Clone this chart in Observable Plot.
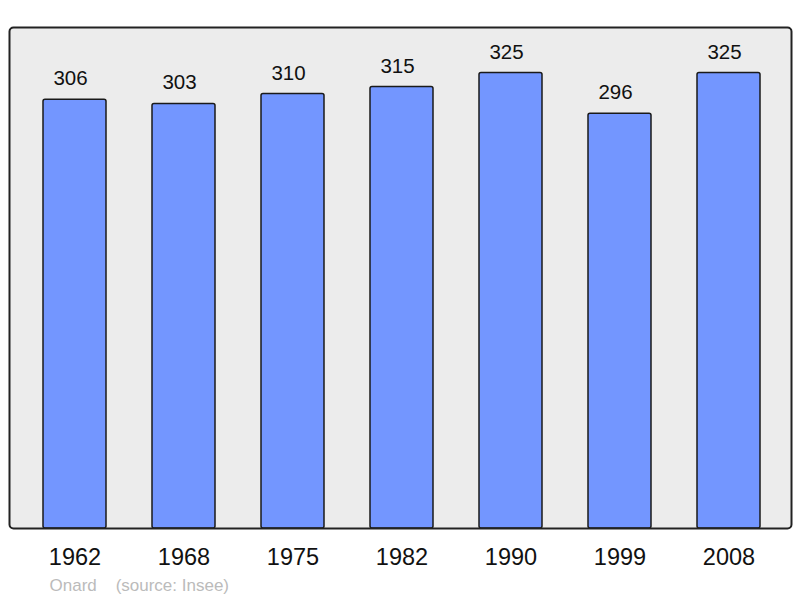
<!DOCTYPE html>
<html>
<head>
<meta charset="utf-8">
<script src="https://cdn.jsdelivr.net/npm/d3@7"></script>
<script src="https://cdn.jsdelivr.net/npm/@observablehq/plot@0.6"></script>
<style>
  html, body { margin: 0; padding: 0; background: #ffffff; }
  svg { display: block; }
</style>
</head>
<body>
<div id="chart"></div>
<script>
const years = ["1962", "1968", "1975", "1982", "1990", "1999", "2008"];
const population = [306, 303, 310, 315, 325, 296, 325];
const captionText = "Onard\u00a0\u00a0\u00a0\u00a0(source: Insee)";

const data = years.map((y, i) => ({year: y, value: population[i]}));

const chart = Plot.plot({
  width: 800,
  height: 598,
  marginTop: 27,
  marginBottom: 70,
  marginLeft: 9,
  marginRight: 9,
  style: {fontFamily: "'Liberation Sans', Arial, sans-serif", background: "#ffffff"},
  x: {domain: years, range: [41.3, 761.2], paddingInner: 0.42, paddingOuter: 0, label: null},
  y: {domain: [0, 357.5], axis: null},
  marks: [
    Plot.frame({fill: "#ececec", stroke: "none", rx: 4}),
    Plot.barY(data, {x: "year", y: "value", fill: "#7396ff", stroke: "#1a1a1a", strokeWidth: 1.5, rx: 2}),
    Plot.frame({stroke: "#222", strokeWidth: 2, rx: 4}),
    Plot.text(data, {x: "year", y: "value", text: d => String(d.value), dx: -4.5, dy: -21, fontSize: 20.5, fill: "#111"}),
    Plot.axisX({tickSize: 0, tickPadding: 20, fontSize: 23.5, fill: "#111", label: null}),
    Plot.text([captionText], {text: d => d, frameAnchor: "bottom-left", textAnchor: "start", dx: 40, dy: 62, fontSize: 17, fill: "#bbbbbb"})
  ]
});
document.getElementById("chart").appendChild(chart);
</script>
</body>
</html>
